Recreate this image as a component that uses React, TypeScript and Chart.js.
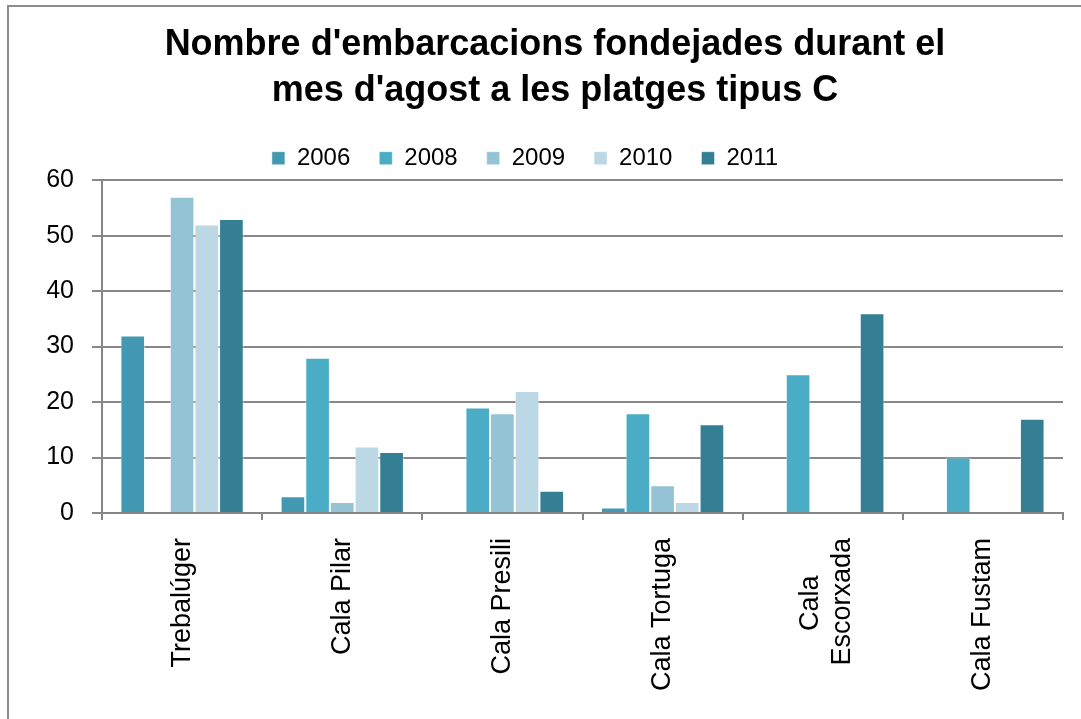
import React, { useEffect, useRef } from "react";
import { Chart, registerables } from "chart.js";

Chart.register(...registerables);

const categories: (string | string[])[] = [
  "Trebalúger",
  "Cala Pilar",
  "Cala Presili",
  "Cala Tortuga",
  ["Cala     ", "Escorxada"],
  "Cala Fustam",
];
const seriesNames = ["2006", "2008", "2009", "2010", "2011"];
const v2006: (number | null)[] = [32, 3, null, 1, null, null];
const v2008: (number | null)[] = [null, 28, 19, 18, 25, 10];
const v2009: (number | null)[] = [57, 2, 18, 5, null, null];
const v2010: (number | null)[] = [52, 12, 22, 2, null, null];
const v2011: (number | null)[] = [53, 11, 4, 16, 36, 17];
const colors = ["#4399B1", "#4BACC6", "#93C3D5", "#BCD8E4", "#357F94"];
const yTicks = [0, 10, 20, 30, 40, 50, 60];

const FONT = "'Liberation Sans', Arial, sans-serif";

// centre multi-line rotated x labels around their tick (as in the original)
const centerMultiLineLabels = {
  id: "centerMultiLineLabels",
  beforeDraw(chart: any) {
    const scale = chart.scales.x;
    if (!scale || !scale.getLabelItems) return;
    const items = scale.getLabelItems();
    items.forEach((it: any) => {
      if (Array.isArray(it.label) && it.label.length > 1 && it.options && it.options.translation) {
        const lh = it.font && it.font.lineHeight ? it.font.lineHeight : 32;
        it.options.translation[0] -= ((it.label.length - 1) * lh) / 2 - 4;
      }
    });
  },
};

export default function App() {
  const ref = useRef<HTMLCanvasElement | null>(null);
  useEffect(() => {
    if (!ref.current) return;
    const values = [v2006, v2008, v2009, v2010, v2011];
    const chart = new Chart(ref.current, {
      type: "bar",
      data: {
        labels: categories,
        datasets: seriesNames.map((name, i) => ({
          label: i === seriesNames.length - 1 ? name + "         " : name,
          data: values[i],
          backgroundColor: colors[i],
          borderColor: "rgba(255,255,255,0.45)",
          borderWidth: 1,
          categoryPercentage: 0.77,
          barPercentage: 1,
        })),
      },
      plugins: [centerMultiLineLabels],
      options: {
        responsive: false,
        animation: false,
        layout: { padding: { left: 47, right: 18, top: 0, bottom: 0 } },
        plugins: {
          title: {
            display: true,
            text: [
              "Nombre d'embarcacions fondejades durant el",
              "mes d'agost a les platges tipus C",
            ],
            color: "#000",
            font: { family: FONT, size: 36, weight: "bold", lineHeight: 1.28 },
            padding: { top: 22, bottom: 3 },
          },
          legend: {
            display: true,
            labels: {
              color: "#000",
              font: { family: FONT, size: 24 },
              boxWidth: 13,
              boxHeight: 13,
              padding: 29,
            },
          },
          tooltip: { enabled: false },
        },
        scales: {
          x: {
            afterFit: (s: any) => {
              s.height = 206;
            },
            grid: {
              display: true,
              drawOnChartArea: false,
              drawTicks: true,
              tickLength: 7,
              color: "#868686",
              lineWidth: 2,
              offset: true,
            },
            border: { display: true, color: "#868686", width: 2 },
            ticks: {
              color: "#000",
              font: { family: FONT, size: 27, lineHeight: 1.2 },
              minRotation: 90,
              maxRotation: 90,
              padding: 18,
            },
          },
          y: {
            min: 0,
            max: 60,
            afterFit: (s: any) => {
              s.width = 55;
            },
            afterBuildTicks: (s: any) => {
              s.ticks = yTicks.map((v) => ({ value: v }));
            },
            grid: {
              color: "#888888",
              lineWidth: 2,
              tickLength: 10,
            },
            border: { display: true, color: "#868686", width: 2 },
            ticks: {
              color: "#000",
              font: { family: FONT, size: 25 },
              padding: 18,
            },
          },
        },
      },
    });
    return () => chart.destroy();
  }, []);
  return (
    <div style={{ position: "fixed", left: 0, top: 0, width: 1081, height: 719, background: "#fff", overflow: "hidden" }}>
      <div
        style={{
          position: "absolute",
          left: 7,
          top: 5,
          width: 1200,
          height: 900,
          borderLeft: "2px solid #8c8c8c",
          borderTop: "2px solid #8c8c8c",
        }}
      />
      <canvas ref={ref} width={1081} height={719} style={{ position: "absolute", left: 0, top: 0 }} />
    </div>
  );
}
